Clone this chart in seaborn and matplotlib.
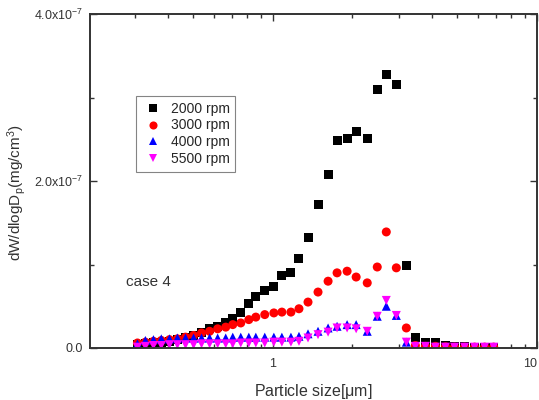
import numpy as np
import pandas as pd
import seaborn as sns
import matplotlib
matplotlib.use('Agg')
import matplotlib.pyplot as plt
from matplotlib.ticker import FixedLocator, FixedFormatter, LogLocator, NullFormatter

# particle size (um)
size = [0.307, 0.329, 0.353, 0.378, 0.406, 0.435, 0.467, 0.501, 0.537, 0.576,
        0.618, 0.663, 0.705, 0.756, 0.811, 0.862, 0.932, 1.009, 1.082, 1.171,
        1.256, 1.359, 1.483, 1.619, 1.751, 1.911, 2.068, 2.278, 2.486, 2.690,
        2.936, 3.204, 3.467, 3.784, 4.130, 4.508, 4.877, 5.324, 5.811, 6.343,
        6.863]

# dW/dlogDp in units of 1e-7 mg/cm3
rpm2000 = [0.04, 0.05, 0.06, 0.07, 0.08, 0.10, 0.12, 0.15, 0.19, 0.23,
           0.26, 0.30, 0.35, 0.42, 0.53, 0.62, 0.69, 0.74, 0.87, 0.90,
           1.07, 1.32, 1.72, 2.08, 2.49, 2.51, 2.59, 2.51, 3.10, 3.28,
           3.15, 0.99, 0.12, 0.06, 0.06, 0.03, 0.02, 0.015, 0.01, 0.01,
           0.01]
rpm3000 = [0.06, 0.07, 0.08, 0.09, 0.10, 0.11, 0.13, 0.15, 0.18, 0.20,
           0.23, 0.25, 0.28, 0.30, 0.34, 0.37, 0.40, 0.42, 0.43, 0.43,
           0.47, 0.55, 0.67, 0.80, 0.90, 0.92, 0.85, 0.78, 0.97, 1.39,
           0.96, 0.24, 0.03, 0.02, 0.02, 0.015, 0.01, 0.01, 0.01, 0.01,
           0.01]
rpm4000 = [0.05, 0.09, 0.10, 0.11, 0.11, 0.12, 0.12, 0.12, 0.12, 0.12,
           0.12, 0.12, 0.13, 0.13, 0.13, 0.13, 0.13, 0.13, 0.13, 0.13,
           0.14, 0.17, 0.20, 0.24, 0.26, 0.28, 0.28, 0.20, 0.38, 0.50,
           0.39, 0.07, 0.02, 0.01, 0.01, 0.01, 0.01, 0.01, 0.01, 0.01,
           0.01]
rpm5500 = [0.01, 0.02, 0.03, 0.03, 0.04, 0.04, 0.04, 0.04, 0.05, 0.05,
           0.05, 0.05, 0.05, 0.06, 0.06, 0.06, 0.06, 0.07, 0.07, 0.07,
           0.08, 0.12, 0.16, 0.19, 0.24, 0.24, 0.23, 0.20, 0.38, 0.57,
           0.39, 0.07, 0.02, 0.02, 0.01, 0.01, 0.01, 0.01, 0.01, 0.01,
           0.01]

labels = ['2000 rpm', '3000 rpm', '4000 rpm', '5500 rpm']
colors = ['#000000', '#ff0000', '#0000ff', '#ff00ff']
marks = ['s', 'o', '^', 'v']

rows = []
for lab, vals in zip(labels, [rpm2000, rpm3000, rpm4000, rpm5500]):
    for x, v in zip(size, vals):
        rows.append({'size': x, 'dW': v * 1e-7, 'speed': lab})
df = pd.DataFrame(rows)

sns.set_style('ticks')
plt.rcParams['font.family'] = ['Liberation Sans', 'DejaVu Sans']
plt.rcParams['mathtext.fontset'] = 'custom'
plt.rcParams['mathtext.rm'] = 'Liberation Sans'
plt.rcParams['mathtext.it'] = 'Liberation Sans'

fig = plt.figure(figsize=(5.39, 4.0), dpi=100)
ax = fig.add_axes([0.167, 0.13, 0.829, 0.835])

sns.scatterplot(data=df, x='size', y='dW', hue='speed', style='speed',
                palette=dict(zip(labels, colors)), markers=dict(zip(labels, marks)),
                hue_order=labels, style_order=labels,
                s=42, linewidth=0, ax=ax)

ax.set_xscale('log')
ax.set_xlim(0.203, 10)
ax.set_ylim(0, 4e-7)

ax.xaxis.set_major_locator(FixedLocator([1, 10]))
ax.xaxis.set_major_formatter(FixedFormatter(['1', '10']))
ax.xaxis.set_minor_locator(LogLocator(base=10, subs=np.arange(2, 10)))
ax.xaxis.set_minor_formatter(NullFormatter())
ax.yaxis.set_major_locator(FixedLocator([0, 2e-7, 4e-7]))
ax.yaxis.set_major_formatter(FixedFormatter(['0.0', r'2.0x10$^{-7}$', r'4.0x10$^{-7}$']))
ax.yaxis.set_minor_locator(FixedLocator([1e-7, 3e-7]))

ax.tick_params(which='both', direction='in', top=True, right=True,
               labelsize=9, colors='#333333', labelcolor='#333333', width=1)
ax.tick_params(which='major', length=5)
ax.tick_params(which='minor', length=3)
ax.tick_params(axis='x', which='major', pad=7)
ax.tick_params(axis='y', which='major', pad=5)
for sp in ax.spines.values():
    sp.set_color('#333333')
    sp.set_linewidth(1.4)

# keep the "10" label inside the figure
fig.canvas.draw()
xt = ax.get_xticklabels()
xt[-1].set_horizontalalignment('right')

ax.set_xlabel('Particle size[$\\mu$m]', fontsize=11.5, color='#333333', labelpad=9)
ax.set_ylabel('dW/dlogD$_p$(mg/cm$^3$)', fontsize=11, color='#333333')
ax.yaxis.set_label_coords(-0.138, 0.464)

handles, labs = ax.get_legend_handles_labels()
leg = ax.legend(handles, labs, loc='upper left', bbox_to_anchor=(0.103, 0.754),
                borderaxespad=0, fontsize=10, frameon=True, fancybox=False,
                handletextpad=0.5, borderpad=0.4, labelspacing=0.2,
                handlelength=1.6, markerscale=0.9)
leg.get_frame().set_edgecolor('#666666')
leg.get_frame().set_linewidth(0.8)

ax.text(0.08, 0.198, 'case 4', transform=ax.transAxes, fontsize=11,
        color='#333333', va='center', ha='left')

fig.savefig('out.png', dpi=100)
